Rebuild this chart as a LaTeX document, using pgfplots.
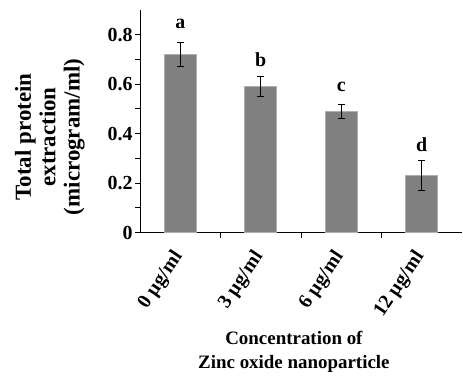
\documentclass[border=0pt]{standalone}
\usepackage{pgfplots}
\pgfplotsset{compat=1.18}
\usepackage{fontspec}
\setmainfont{Liberation Serif}
\definecolor{barfill}{RGB}{128,128,128}
\definecolor{baredge}{RGB}{175,175,175}
\begin{document}
\begin{tikzpicture}
\begin{axis}[
  scale only axis, width=322bp, height=222.7bp,
  xmin=-0.5, xmax=3.5, ymin=0, ymax=0.9,
  axis lines=left,
  axis line style={-, line width=1bp, black},
  clip=false,
  ytick={0,0.2,0.4,0.6,0.8},
  minor ytick={0.1,0.3,0.5,0.7},
  tick align=outside,
  major tick length=5bp, minor tick length=5bp,
  tick style={line width=1bp, black},
  /pgf/number format/.cd, fixed, precision=1, assume math mode=true,
  /pgfplots/.cd,
  yticklabel style={font=\bfseries\fontsize{20}{22}\selectfont, xshift=1bp},
  xtick={0.5,1.5,2.5},
  xticklabels={},
  extra x ticks={0,1,2,3},
  extra x tick labels={0 µg/ml,3 µg/ml,6 µg/ml,12 µg/ml},
  extra x tick style={major tick length=0pt,
    xticklabel style={xshift=0.5bp, yshift=-18bp, rotate=56, anchor=east,
      font=\bfseries\fontsize{20}{22}\selectfont}},
  ylabel={Total protein\\extraction\\(microgram/ml)},
  ylabel style={at={(axis description cs:-0.28,0.43)}, anchor=center, align=center,
    font=\bfseries\fontsize{23}{24.5}\selectfont},
  xlabel={Concentration of\\Zinc oxide nanoparticle},
  xlabel style={at={(axis description cs:0.478,-0.535)}, anchor=center, align=center,
    font=\bfseries\fontsize{19}{24}\selectfont},
]
\addplot[ybar, bar width=0.4, bar shift=0pt, fill=barfill, draw=baredge, line width=0.8bp,
  error bars/.cd, y dir=both, y explicit,
  error bar style={line width=1bp, black},
  error mark options={rotate=90, mark size=3.5bp, line width=1bp, black}]
  coordinates {
    (0,0.72) +- (0,0.05)
    (1,0.59) +- (0,0.04)
    (2,0.49) +- (0,0.03)
    (3,0.23) +- (0,0.06)
  };
\addplot[draw=none, mark=none, nodes near coords, point meta=explicit symbolic,
  nodes near coords style={anchor=center, font=\bfseries\fontsize{20}{22}\selectfont}]
  coordinates {
    (0,0.845) [a]
    (1,0.70) [b]
    (2,0.59) [c]
    (3,0.355) [d]
  };
\path (rel axis cs:-0.4348,-0.630) rectangle (rel axis cs:1.003,1.045);
\end{axis}
\end{tikzpicture}
\end{document}
